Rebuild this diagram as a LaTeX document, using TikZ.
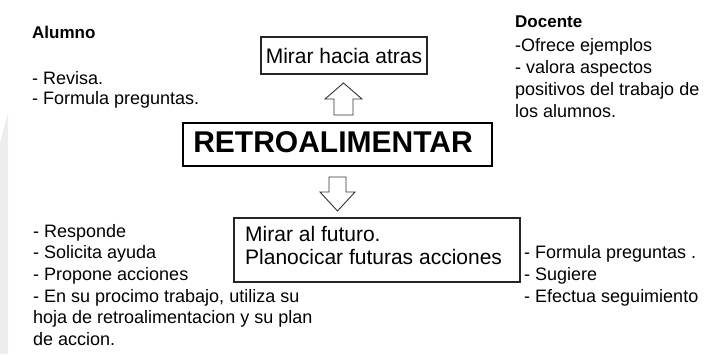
\documentclass[tikz,border=0pt]{standalone}
\usepackage{fontspec}
\setmainfont{Liberation Sans}
\begin{document}
\begin{tikzpicture}[x=1pt,y=-1pt,
  sm/.style={font=\fontsize{18}{21}\selectfont, anchor=base west, inner sep=0pt},
  hd/.style={font=\bfseries\fontsize{17}{20}\selectfont, anchor=base west, inner sep=0pt},
  bx/.style={draw=black!85, line width=1.3pt, inner sep=0pt},
  bigtext/.style={font=\fontsize{21}{24}\selectfont, inner sep=0pt},
  blk/.style={draw=black!80, line width=0.9pt, fill=white, line join=miter}]
\useasboundingbox (0,0) rectangle (704,354);
\fill[black!7] (0,143) -- (8,113) -- (8,354) -- (0,354) -- cycle;

% Alumno
\node[hd] (alumno) at (32,38) {Alumno};
\node[sm] (a1) at (32,84) {- Revisa.};
\node[sm] (a2) at (32,104) {- Formula preguntas.};

% Docente
\node[hd] (docente) at (515,27) {Docente};
\node[sm] (d1) at (515,51) {-Ofrece ejemplos};
\node[sm] (d2) at (515,73) {- valora aspectos};
\node[sm] (d3) at (515,95) {positivos del trabajo de};
\node[sm] (d4) at (515,117) {los alumnos.};

% boxes
\node[bx, minimum width=166pt, minimum height=37pt, bigtext] (atras) at (344,55.5) {Mirar hacia atras};
\node[draw=black, line width=2pt, minimum width=309pt, minimum height=43pt, inner sep=0pt] (retro) at (337.5,144.5) {};
\node[font=\bfseries\fontsize{30}{34}\selectfont, inner sep=0pt] (retrot) at (333,142) {RETROALIMENTAR};
\node[bx, minimum width=286pt, minimum height=64pt] (futuro) at (377,250) {};
\node[bigtext, anchor=base west] (f1) at (245,241) {Mirar al futuro.};
\node[bigtext, anchor=base west] (f2) at (245,264) {Planocicar futuras acciones};

% block arrows
\draw[blk] (334,115) -- (334,99) -- (325,99) -- (343.5,83) -- (362,99) -- (353,99) -- (353,115) -- cycle;
\draw[blk] (329,177) -- (346,177) -- (346,192) -- (355,192) -- (337.5,211) -- (320,192) -- (329,192) -- cycle;

% bottom-left list
\node[sm] (b1) at (33,237) {- Responde};
\node[sm] (b2) at (33,258) {- Solicita ayuda};
\node[sm] (b3) at (33,280) {- Propone acciones};
\node[sm] (b4) at (33,302) {- En su procimo trabajo, utiliza su};
\node[sm] (b5) at (33,323) {hoja de retroalimentacion y su plan};
\node[sm] (b6) at (33,345) {de accion.};

% right list
\node[sm] (r1) at (524,258) {- Formula preguntas .};
\node[sm] (r2) at (524,280) {- Sugiere};
\node[sm] (r3) at (524,302) {- Efectua seguimiento};
\end{tikzpicture}
\end{document}
